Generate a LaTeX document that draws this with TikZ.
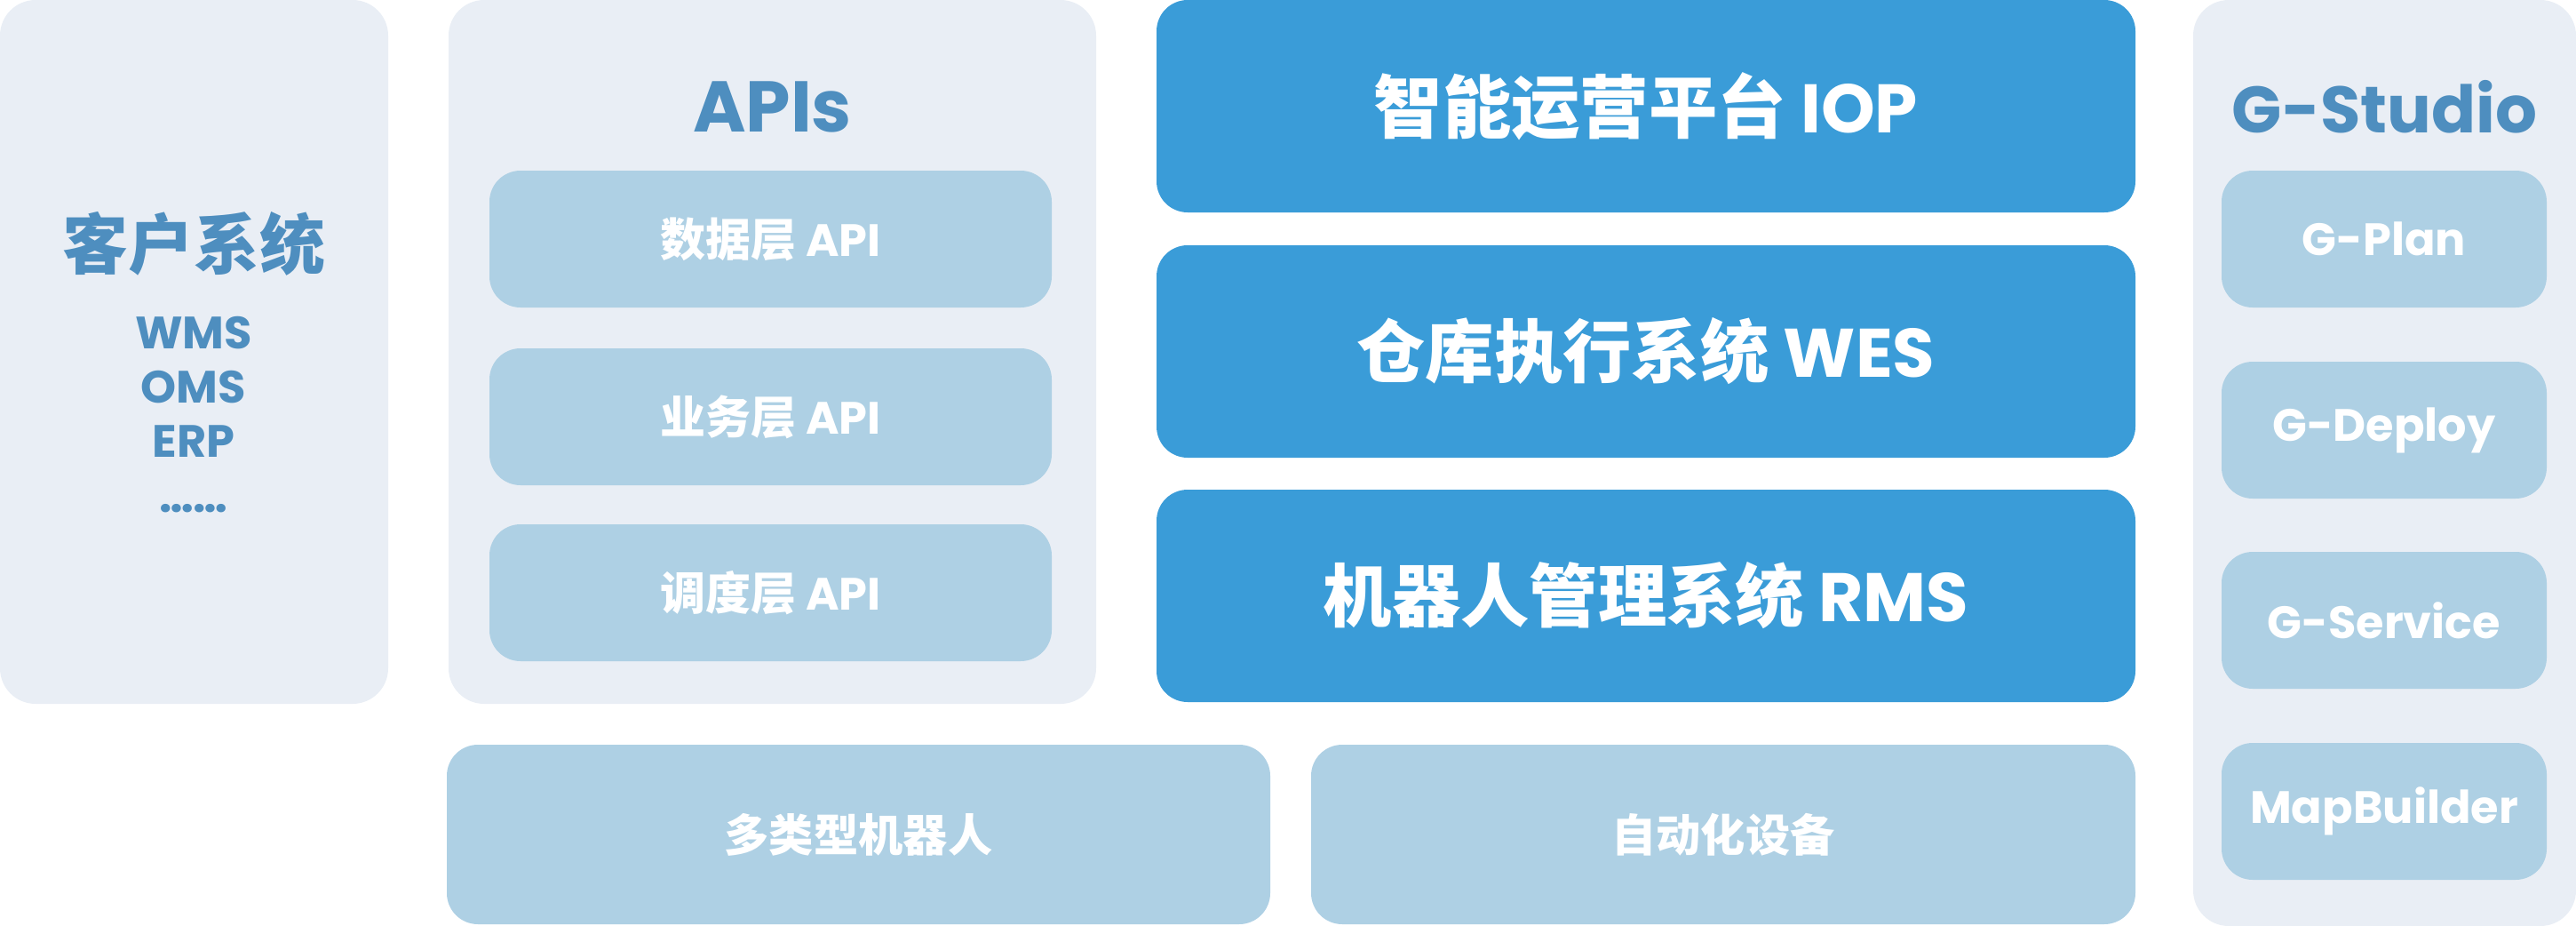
\documentclass[tikz,border=0pt]{standalone}
\usepackage{fontspec}
\setmainfont{Poppins}
\newfontfamily\cjk{Noto Sans CJK SC}
\usetikzlibrary{positioning}
\definecolor{panelbg}{HTML}{E9EEF5}
\definecolor{subbg}{HTML}{AED0E4}
\definecolor{corebg}{HTML}{3A9CD8}
\definecolor{titlefg}{HTML}{4E8EBF}

\begin{document}
\begin{tikzpicture}[outer sep=0pt,
   pan/.style={fill=panelbg, rounded corners=0.4cm, anchor=north west, inner sep=0pt},
   sub/.style={fill=subbg, rounded corners=0.35cm, text=white, minimum height=1.54cm, inner sep=0pt,
     font=\bfseries\fontsize{14.5}{17}\selectfont},
   core/.style={fill=corebg, rounded corners=0.35cm, text=white, minimum width=11.02cm, minimum height=2.39cm,
     inner sep=0pt, font=\bfseries\fontsize{22}{26}\selectfont},
   ttl/.style={text=titlefg, font=\bfseries\fontsize{23}{27}\selectfont}]
  \useasboundingbox (0,0) rectangle (29,-10.42);
  \node[pan, minimum width=4.37cm, minimum height=7.92cm] (client) at (0,0) {};
  \node[pan, minimum width=7.29cm, minimum height=7.92cm] (apis) at (5.05,0) {};
  \node[pan, minimum width=4.31cm, minimum height=10.42cm] (studio) at (24.69,0) {};

  \node[ttl, font=\bfseries\fontsize{21}{25}\selectfont, yshift=-2.74cm] (clientttl) at (client.north) {\cjk 客户系统};
  \node[text=titlefg, align=center, anchor=base, font=\bfseries\fontsize{14.5}{17.4}\selectfont] (clientlist)
    at (2.18,-5.76) {WMS\\OMS\\ERP\\……};

  \node[ttl, yshift=-1.2cm] (apisttl) at (apis.north) {APIs};
  \node[sub, minimum width=6.33cm, anchor=north west] (dataapi) at (5.51,-1.92) {{\cjk 数据层} API};
  \node[sub, minimum width=6.33cm, below=0.46cm of dataapi] (bizapi) {{\cjk 业务层} API};
  \node[sub, minimum width=6.33cm, below=0.44cm of bizapi] (schedapi) {{\cjk 调度层} API};

  \node[core, anchor=north west] (iop) at (13.02,0) {{\cjk 智能运营平台} IOP};
  \node[core, below=0.37cm of iop] (wes) {{\cjk 仓库执行系统} WES};
  \node[core, below=0.36cm of wes] (rms) {{\cjk 机器人管理系统} RMS};

  \node[sub, minimum width=9.27cm, minimum height=2.02cm, anchor=north west,
    font=\bfseries\fontsize{14.3}{17}\selectfont] (robots) at (5.03,-8.38) {\cjk 多类型机器人};
  \node[sub, minimum width=9.28cm, minimum height=2.02cm, right=0.46cm of robots,
    font=\bfseries\fontsize{14.3}{17}\selectfont] (devices) {\cjk 自动化设备};

  \node[ttl, font=\bfseries\fontsize{21}{25}\selectfont, yshift=-1.2cm] (studiottl) at (studio.north) {G-Studio};
  \node[sub, minimum width=3.66cm, anchor=north west] (gplan) at (25.01,-1.92) {G-Plan};
  \node[sub, minimum width=3.66cm, below=0.61cm of gplan] (gdeploy) {G-Deploy};
  \node[sub, minimum width=3.66cm, below=0.60cm of gdeploy] (gservice) {G-Service};
  \node[sub, minimum width=3.66cm, below=0.61cm of gservice] (mapbuilder) {MapBuilder};
\end{tikzpicture}
\end{document}
